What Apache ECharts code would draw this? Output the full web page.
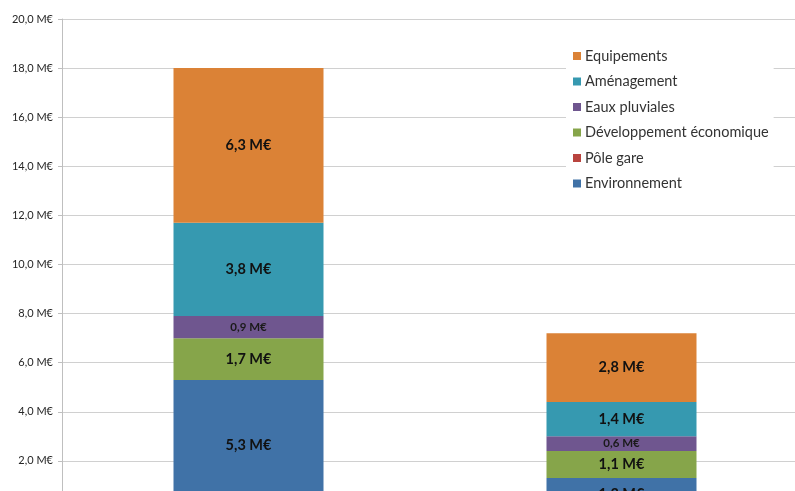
<!DOCTYPE html>
<html>
<head>
<meta charset="utf-8">
<script src="https://cdn.jsdelivr.net/npm/echarts@6/dist/echarts.min.js"></script>
<style>
  html, body { margin: 0; padding: 0; background: #fff; overflow: hidden; }
  #chart { width: 810px; height: 540px; }
</style>
</head>
<body>
<div id="chart"></div>
<script>
// Two programmes, amounts in millions of euros
const categories = ['Programme 1', 'Programme 2'];

const environnement = [5.3, 1.3];
const poleGare = [0, 0];
const developpementEco = [1.7, 1.1];
const eauxPluviales = [0.9, 0.6];
const amenagement = [3.8, 1.4];
const equipements = [6.3, 2.8];

const yTicks = { min: 0, max: 20, interval: 2 };

const FONT = 'Lato, "Open Sans", sans-serif';

function euro(v, digits) {
  return v.toFixed(digits).replace('.', ',') + ' M€';
}

function makeSeries(name, data, color, small) {
  return {
    name: name,
    type: 'bar',
    stack: 'total',
    barWidth: 150,
    data: data,
    itemStyle: { color: color },
    label: {
      show: true,
      position: 'inside',
      fontFamily: FONT,
      fontWeight: 'bold',
      fontSize: small ? 11.5 : 14.5,
      color: small ? '#1a1a1a' : '#111',
      formatter: p => (p.value > 0 ? euro(p.value, 1) : '')
    }
  };
}

const series = [
  makeSeries('Environnement', environnement, '#4072a7', false),
  makeSeries('Pôle gare', poleGare, '#b9443f', false),
  makeSeries('Développement économique', developpementEco, '#86a54a', false),
  makeSeries('Eaux pluviales', eauxPluviales, '#6f568f', true),
  makeSeries('Aménagement', amenagement, '#3699b0', false),
  makeSeries('Equipements', equipements, '#db8236', false)
];

const chart = echarts.init(document.getElementById('chart'), null, { renderer: 'canvas' });
chart.setOption({
  animation: false,
  backgroundColor: '#fff',
  grid: { left: 62, right: 2, top: 19, bottom: 30, containLabel: false },
  legend: {
    orient: 'vertical',
    left: 566,
    top: 40,
    data: ['Equipements', 'Aménagement', 'Eaux pluviales', 'Développement économique', 'Pôle gare', 'Environnement'],
    icon: 'rect',
    itemWidth: 8,
    itemHeight: 8,
    itemGap: 9.5,
    padding: [8, 5, 8, 7],
    backgroundColor: '#fff',
    textStyle: { fontFamily: FONT, fontSize: 14.5, color: '#333', lineHeight: 16, padding: [0, 0, 0, -1] }
  },
  xAxis: {
    type: 'category',
    data: categories,
    axisLine: { lineStyle: { color: '#bfbfbf' } },
    axisTick: { show: false },
    axisLabel: { fontFamily: FONT, color: '#333' }
  },
  yAxis: {
    type: 'value',
    min: yTicks.min,
    max: yTicks.max,
    interval: yTicks.interval,
    axisLine: { show: true, lineStyle: { color: '#bfbfbf' } },
    axisTick: { show: true, length: 4, lineStyle: { color: '#bfbfbf' } },
    splitLine: { lineStyle: { color: '#d0d0d0' } },
    axisLabel: {
      fontFamily: FONT,
      fontSize: 11,
      color: '#262626',
      margin: 9,
      formatter: v => euro(v, 1)
    }
  },
  series: series
});
</script>
</body>
</html>
